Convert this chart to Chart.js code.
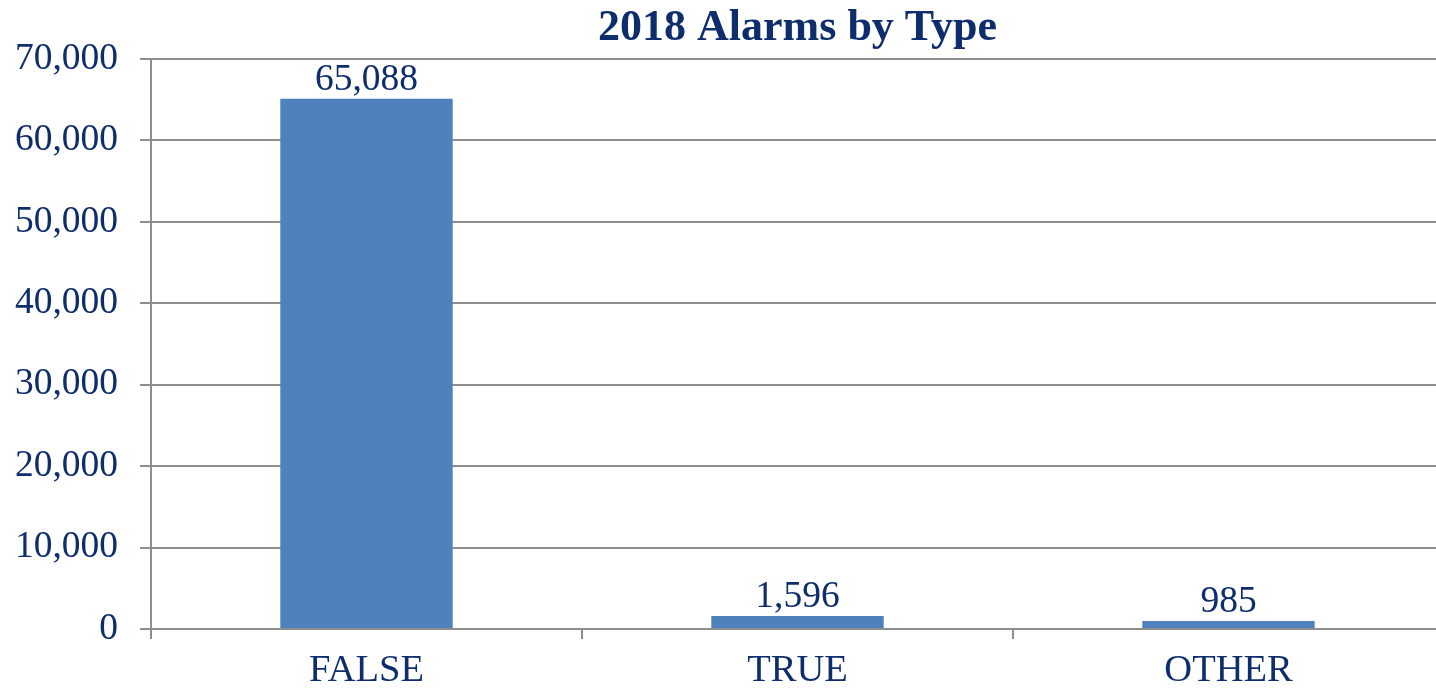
<!DOCTYPE html>
<html>
<head>
<meta charset="utf-8">
<script src="https://cdn.jsdelivr.net/npm/chart.js@4/dist/chart.umd.min.js"></script>
<style>
  html, body { margin: 0; padding: 0; background: #fff; overflow: hidden; }
  #wrap { width: 1436px; height: 688px; overflow: hidden; }
</style>
</head>
<body>
<div id="wrap"><canvas id="alarms" width="1446" height="688"></canvas></div>
<script>
// 2018 alarms by type
const categories = ['FALSE', 'TRUE', 'OTHER'];
const alarmCounts = [65088, 1596, 985];
const yTicks = [0, 10000, 20000, 30000, 40000, 50000, 60000, 70000];

const navy = '#0e2d6c';
const gridGray = '#8e8e8e';
const serif = '"Liberation Serif", "Times New Roman", serif';

// draw the value above each bar
const barValues = {
  id: 'barValues',
  afterDatasetsDraw(chart) {
    const ctx = chart.ctx;
    const meta = chart.getDatasetMeta(0);
    ctx.save();
    ctx.font = '37.5px ' + serif;
    ctx.fillStyle = navy;
    ctx.textAlign = 'center';
    ctx.textBaseline = 'alphabetic';
    meta.data.forEach((bar, i) => {
      ctx.fillText(alarmCounts[i].toLocaleString('en-US'), bar.x, bar.y - 9);
    });
    ctx.restore();
  }
};

new Chart(document.getElementById('alarms').getContext('2d'), {
  type: 'bar',
  data: {
    labels: categories,
    datasets: [{
      data: alarmCounts,
      backgroundColor: '#4f81bd',
      borderWidth: 0,
      barPercentage: 0.8,
      categoryPercentage: 0.5
    }]
  },
  options: {
    responsive: false,
    animation: false,
    layout: { padding: { left: 0, right: 2, top: 0, bottom: 0 } },
    plugins: {
      legend: { display: false },
      tooltip: { enabled: false },
      title: {
        display: true,
        fullSize: false,
        text: '2018 Alarms by Type',
        color: navy,
        font: { family: serif, size: 44, weight: 'bold', lineHeight: 1.2 },
        padding: { top: 2, bottom: 4 }
      }
    },
    scales: {
      x: {
        afterFit(scale) { scale.height = 59; },
        grid: { display: true, drawOnChartArea: false, drawTicks: true, tickLength: 10, color: gridGray, lineWidth: 2 },
        border: { display: true, color: gridGray, width: 2 },
        ticks: { color: navy, font: { family: serif, size: 38.5, lineHeight: 1.2 }, padding: 9 }
      },
      y: {
        min: 0,
        max: 70000,
        afterFit(scale) { scale.width = 151; },
        afterBuildTicks(scale) { scale.ticks = yTicks.map(v => ({ value: v })); },
        grid: { color: gridGray, lineWidth: 2, tickLength: 11 },
        border: { display: true, color: gridGray, width: 2 },
        ticks: {
          color: navy,
          font: { family: serif, size: 37.5 },
          padding: 22,
          callback: v => v.toLocaleString('en-US')
        }
      }
    }
  },
  plugins: [barValues]
});
</script>
</body>
</html>
